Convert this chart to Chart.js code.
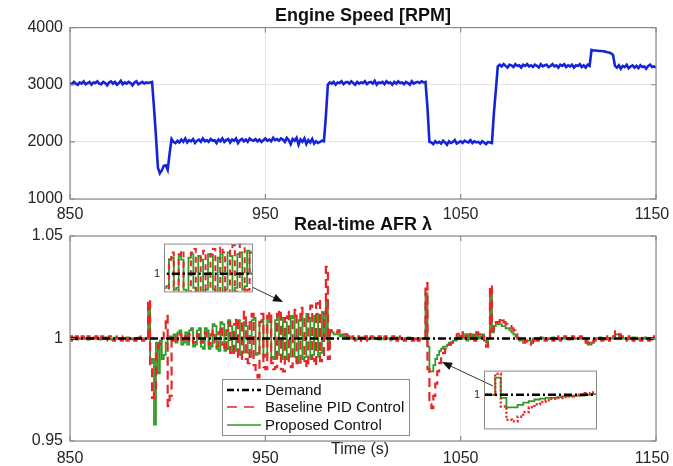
<!DOCTYPE html>
<html>
<head>
<meta charset="utf-8">
<script src="https://cdn.jsdelivr.net/npm/chart.js@4"></script>
<style>
  html, body { margin: 0; padding: 0; background: #fff; }
  #fig { position: relative; width: 673px; height: 466px; overflow: hidden; }
  #fig canvas { position: absolute; }
</style>
</head>
<body>
<div id="fig">
  <canvas id="speed" width="673" height="225" style="left:0;top:0"></canvas>
  <canvas id="afr" width="673" height="261" style="left:0;top:205px"></canvas>
  <canvas id="inset1" width="106" height="69" style="left:150px;top:233px"></canvas>
  <canvas id="inset2" width="130" height="79" style="left:470px;top:360px"></canvas>
</div>
<script>
// sample times: 850 s .. 1150 s, one sample per second
const timeStart = 850;
const timeStep = 1;
const timeTicks = [850, 950, 1050, 1150];
const rpmTicks = [1000, 2000, 3000, 4000];
const lambdaTicks = [0.95, 1, 1.05];

// engine speed [RPM]
const speedRpm = [
  3030,3010,3050,3020,3000,3040,3020,3060,3010,3030, // 850
  3050,3000,3040,3030,3060,3020,3010,3050,3030,2990, // 860
  3040,3060,3020,3050,3000,3030,3070,3010,3040,3020, // 870
  3050,3030,2990,3040,3060,3010,3030,3050,3020,3040, // 880
  3030,3040,3050,2600,2100,1550,1450,1500,1580,1590, // 890
  1510,1800,2050,2000,1980,2020,1990,2040,2000,2060, // 900
  1990,2030,2010,2050,1980,2020,2040,2000,2060,2010, // 910
  2030,2000,2050,2020,2030,1980,2040,2010,2060,2000, // 920
  2030,2050,1990,2040,2020,2060,1980,2030,2050,2010, // 930
  2040,2000,2060,2030,2020,2050,2010,2040,2000,2030, // 940
  2060,2020,2040,2010,2070,2030,2050,2020,2060,2040, // 950
  2000,2070,2030,1960,2050,2020,2070,1950,2040,2000, // 960
  2060,1960,2030,1990,2050,1970,2010,1980,2000,2020, // 970
  2010,2450,3000,3040,3020,3050,3000,3040,3030,3060, // 980
  3010,3040,3050,3020,3060,3030,3000,3050,3020,3040, // 990
  3030,3060,3010,3040,3050,3020,3070,3000,3040,3030, // 1000
  3050,3010,3060,3030,3040,3000,3050,3020,3060,3030, // 1010
  3040,3010,3050,3030,3000,3060,3020,3040,3050,3030, // 1020
  3060,3040,3050,2600,2000,1990,1960,2010,1980,2000, // 1030
  1970,2020,1990,1950,2010,1980,2000,2030,1970,1990, // 1040
  2010,1980,2020,2000,1990,2030,1980,2010,1990,2000, // 1050
  1970,2010,1990,1960,2000,1990,1980,2500,2900,3320, // 1060
  3350,3320,3360,3330,3300,3350,3340,3310,3360,3330, // 1070
  3340,3300,3350,3330,3360,3320,3340,3310,3350,3330, // 1080
  3300,3360,3320,3340,3350,3310,3330,3360,3320,3340, // 1090
  3300,3350,3330,3360,3310,3340,3320,3350,3300,3340, // 1100
  3330,3360,3310,3340,3300,3350,3330,3610,3600,3600, // 1110
  3595,3590,3590,3585,3580,3570,3565,3550,3520,3330, // 1120
  3300,3340,3280,3330,3310,3350,3290,3320,3340,3300, // 1130
  3330,3290,3340,3310,3320,3280,3330,3350,3310,3320, // 1140
  3300                                               // 1150
];

// lambda, baseline PID control
const afrBaseline = [
  1.000,1.001,0.999,1.000,1.001,1.000,0.999,1.001,1.000,0.999, // 850
  1.001,1.000,0.999,1.000,1.001,0.999,1.000,1.001,1.000,0.999, // 860
  1.000,1.001,1.000,0.999,1.000,1.001,1.000,0.999,1.001,1.000, // 870
  0.999,1.000,1.001,1.000,0.999,1.000,1.001,1.000,0.999,1.000, // 880
  1.000,1.019,0.985,0.971,0.975,0.995,0.997,0.998,1.000,1.003, // 890
  1.011,0.967,0.972,0.999,1.001,0.999,1.000,1.002,0.998,1.000, // 900
  1.001,0.999,1.002,1.001,0.998,1.000,1.002,0.999,0.998,1.001, // 910
  1.003,0.999,0.997,1.002,1.004,0.998,0.996,1.003,1.006,0.997, // 920
  0.994,1.004,1.008,0.993,0.992,1.007,1.010,0.991,0.990,1.009, // 930
  1.013,0.990,0.988,1.010,1.012,0.987,0.984,0.981,1.008,1.012, // 940
  0.986,0.985,1.011,1.013,0.988,0.985,0.986,1.012,1.014,0.985, // 950
  0.984,1.010,1.013,0.987,0.986,1.011,1.014,0.988,0.987,1.015, // 960
  1.012,0.989,0.986,1.013,1.016,0.990,0.987,1.017,1.019,0.989, // 970
  0.991,1.012,1.035,0.990,1.004,1.004,1.004,1.003,1.004,1.003, // 980
  1.003,1.002,1.002,1.001,1.002,1.001,1.000,0.999,1.001,1.000, // 990
  0.999,1.000,1.001,0.999,1.000,1.001,1.000,0.999,1.000,1.001, // 1000
  1.000,0.999,1.001,1.000,0.999,1.000,1.001,1.000,0.999,1.000, // 1010
  1.001,1.000,0.999,1.000,1.001,1.000,0.999,1.001,1.000,0.999, // 1020
  1.000,1.000,1.000,1.027,0.985,0.968,0.966,0.972,0.978,0.984, // 1030
  0.988,0.991,0.993,0.995,0.996,0.997,0.998,0.999,1.000,1.002, // 1040
  1.003,1.001,1.003,1.000,1.002,1.003,1.000,1.002,0.999,1.003, // 1050
  1.002,1.000,1.001,0.998,0.996,0.999,1.026,1.004,1.006,1.008, // 1060
  1.008,1.009,1.010,1.008,1.007,1.006,1.006,1.005,1.004,1.002, // 1070
  1.000,0.998,0.998,0.998,0.999,0.997,0.997,0.998,0.999,1.000, // 1080
  0.999,1.000,1.001,1.000,0.999,1.000,1.001,1.000,0.999,1.000, // 1090
  1.001,1.000,0.999,1.000,1.001,1.000,0.999,1.000,1.001,1.000, // 1100
  0.999,1.000,1.001,1.000,0.999,0.998,0.998,0.997,0.998,0.999, // 1110
  1.000,1.001,1.000,0.999,1.000,1.001,1.000,0.999,1.000,1.001, // 1120
  1.0035,1.003,1.002,1.001,1.000,0.999,1.000,1.001,1.000,0.999, // 1130
  1.000,1.001,1.000,0.999,1.000,1.001,1.000,0.999,1.000,1.001, // 1140
  1.000                                                        // 1150
];

// lambda, proposed control
const afrProposed = [
  1.000,1.000,1.0005,1.000,0.9995,1.000,1.000,1.0005,1.000,1.000, // 850
  0.9995,1.000,1.000,1.0005,1.000,1.000,0.9995,1.000,1.000,1.0005, // 860
  1.000,1.000,0.9995,1.000,1.0005,1.000,1.000,0.9995,1.000,1.000, // 870
  1.0005,1.000,1.000,0.9995,1.000,1.000,1.0005,1.000,0.9995,1.000, // 880
  1.000,1.017,0.988,0.990,0.958,0.998,0.983,0.999,0.990,0.992, // 890
  0.998,1.000,1.001,0.999,1.002,0.998,1.003,1.004,0.997,0.998, // 900
  1.003,0.997,1.004,1.005,0.996,0.997,1.004,1.005,0.996,0.995, // 910
  1.005,1.004,0.995,0.996,1.007,1.006,0.995,0.994,1.008,1.007, // 920
  0.994,0.995,1.009,1.006,0.993,0.994,1.007,1.009,0.992,0.993, // 930
  1.008,1.006,0.993,0.991,1.009,1.010,0.992,0.993,1.008,1.009, // 940
  0.991,0.992,1.010,1.008,0.991,0.990,1.009,1.011,0.992,0.990, // 950
  1.010,1.008,0.990,0.991,1.011,1.010,0.991,0.989,1.009,1.011, // 960
  0.990,0.991,1.012,1.010,0.990,0.992,1.011,1.012,0.991,0.993, // 970
  1.013,1.000,1.019,0.996,1.004,1.003,1.002,1.002,1.002,1.001, // 980
  1.002,1.001,1.001,1.000,1.0005,1.000,1.000,0.9995,1.000,1.000, // 990
  1.0005,1.000,1.000,0.9995,1.000,1.000,1.0005,1.000,1.000,0.9995, // 1000
  1.000,1.000,1.0005,1.000,1.000,0.9995,1.000,1.000,1.0005,1.000, // 1010
  1.000,0.9995,1.000,1.000,1.0005,1.000,1.000,0.9995,1.000,1.000, // 1020
  1.000,1.000,1.000,1.022,0.996,0.984,0.984,0.987,0.990,0.992, // 1030
  0.994,0.995,0.996,0.996,0.997,0.998,0.998,0.999,0.999,1.000, // 1040
  1.001,1.000,1.002,1.001,0.999,1.002,1.000,1.002,1.000,1.002, // 1050
  1.000,1.001,1.002,0.999,0.998,1.000,1.022,1.003,1.006,1.008, // 1060
  1.007,1.007,1.006,1.006,1.005,1.005,1.004,1.003,1.002,1.001, // 1070
  1.000,0.999,0.999,0.999,0.999,0.999,0.999,0.999,1.000,1.000, // 1080
  1.000,1.000,1.0005,1.000,1.000,0.9995,1.000,1.000,1.0005,1.000, // 1090
  1.000,0.9995,1.000,1.000,1.0005,1.000,1.000,0.9995,1.000,1.000, // 1100
  1.000,1.000,1.0005,1.000,1.000,0.999,0.997,0.997,0.998,0.999, // 1110
  1.000,1.000,1.0005,1.000,1.000,0.9995,1.000,1.000,1.000,1.000, // 1120
  1.002,1.002,1.001,1.0005,1.000,1.000,0.9995,1.000,1.000,1.0005, // 1130
  1.000,1.000,0.9995,1.000,1.000,1.0005,1.000,1.000,0.9995,1.000, // 1140
  1.000                                                          // 1150
];

// lambda demand
const demandTimes = [850, 1150];
const demandLambda = [1, 1];

// zoom windows of the two insets
const inset1X = [945, 981], inset1Y = [0.99, 1.017];
const inset2X = [1030, 1050], inset2Y = [0.957, 1.031];

if (speedRpm.length !== 301 || afrBaseline.length !== 301 || afrProposed.length !== 301) {
  throw new Error('length ' + speedRpm.length + ' ' + afrBaseline.length + ' ' + afrProposed.length);
}

const FONT = "'Liberation Sans', Arial, Helvetica, sans-serif";
const TXT = '#262626';
const GRID = '#e4e4e4';
const FRAME = '#8c8c8c';
const RED = '#e8262a';
const GREEN = '#2f9a24';

const series = vals => vals.map((v, i) => ({ x: timeStart + i * timeStep, y: v }));
const pairs = (xs, ys) => xs.map((x, i) => ({ x, y: ys[i] }));
const fixTicks = list => axis => { axis.ticks = list.map(v => ({ value: v })); };

// box round the plot area plus short inward ticks, like matlab
const frame = {
  id: 'frame',
  afterDraw(chart) {
    const { ctx, chartArea: a, scales } = chart;
    ctx.save();
    ctx.strokeStyle = FRAME;
    ctx.lineWidth = 1.2;
    ctx.strokeRect(a.left, a.top, a.right - a.left, a.bottom - a.top);
    const tl = 5;
    ctx.beginPath();
    scales.x.ticks.forEach(t => {
      const px = scales.x.getPixelForValue(t.value);
      ctx.moveTo(px, a.bottom); ctx.lineTo(px, a.bottom - tl);
      ctx.moveTo(px, a.top); ctx.lineTo(px, a.top + tl);
    });
    scales.y.ticks.forEach(t => {
      const py = scales.y.getPixelForValue(t.value);
      ctx.moveTo(a.left, py); ctx.lineTo(a.left + tl, py);
      ctx.moveTo(a.right, py); ctx.lineTo(a.right - tl, py);
    });
    ctx.stroke();
    ctx.restore();
  }
};

function axisX(h, pad) {
  return {
    type: 'linear', min: timeTicks[0], max: timeTicks[timeTicks.length - 1],
    afterBuildTicks: fixTicks(timeTicks),
    afterFit: s => { s.height = h; s.paddingLeft = 0; s.paddingRight = 17; },
    ticks: {
      autoSkip: false, maxRotation: 0, padding: pad, color: TXT, font: { family: FONT, size: 16 },
      // last label sits a little left of the corner in the original
      callback: (v, i, arr) => i === arr.length - 1 ? String(v) + '\u2002' : String(v)
    },
    grid: { color: GRID, drawTicks: false },
    border: { display: false }
  };
}

function axisY(ticks) {
  return {
    min: ticks[0], max: ticks[ticks.length - 1],
    afterBuildTicks: fixTicks(ticks),
    afterFit: s => { s.width = 70; },
    ticks: { padding: 7, color: TXT, font: { family: FONT, size: 16 }, callback: v => String(v) },
    grid: { color: GRID, drawTicks: false },
    border: { display: false }
  };
}

function titleOpts(text, top, bottom) {
  return {
    display: true, text, color: '#111', fullSize: false,
    font: { family: FONT, size: 18, weight: 'bold', lineHeight: 1.2 },
    padding: { top, bottom }
  };
}

new Chart(document.getElementById('speed'), {
  type: 'line',
  data: {
    datasets: [{
      data: series(speedRpm), borderColor: '#1424d6', borderWidth: 2.6,
      pointRadius: 0, tension: 0
    }]
  },
  options: {
    responsive: false, animation: false, events: [],
    plugins: { legend: { display: false }, tooltip: { enabled: false }, title: titleOpts('Engine Speed [RPM]', 5, 1) },
    scales: { x: axisX(26, 6), y: axisY(rpmTicks) }
  },
  plugins: [frame]
});

function arrow(ctx, x0, y0, x1, y1) {
  const ang = Math.atan2(y1 - y0, x1 - x0), len = 10, w = 4;
  ctx.beginPath();
  ctx.moveTo(x0, y0);
  ctx.lineTo(x1 - len * Math.cos(ang), y1 - len * Math.sin(ang));
  ctx.stroke();
  ctx.beginPath();
  ctx.moveTo(x1, y1);
  ctx.lineTo(x1 - len * Math.cos(ang) + w * Math.sin(ang), y1 - len * Math.sin(ang) - w * Math.cos(ang));
  ctx.lineTo(x1 - len * Math.cos(ang) - w * Math.sin(ang), y1 - len * Math.sin(ang) + w * Math.cos(ang));
  ctx.closePath();
  ctx.fill();
}

// legend box, arrows and the x label that sits level with the tick labels
const extras = {
  id: 'extras',
  afterDraw(chart) {
    const ctx = chart.ctx;
    ctx.save();
    ctx.fillStyle = '#fff';
    ctx.fillRect(222, 174, 187, 56);
    ctx.strokeStyle = FRAME;
    ctx.lineWidth = 1;
    ctx.strokeRect(222.5, 174.5, 187, 56);
    const rows = [
      { y: 185, color: '#000', dash: [7, 3, 2, 3], w: 2.4, label: 'Demand' },
      { y: 202, color: RED, dash: [10, 7], w: 1.6, label: 'Baseline PID Control' },
      { y: 220, color: GREEN, dash: [], w: 1.6, label: 'Proposed Control' }
    ];
    rows.forEach(r => {
      ctx.beginPath();
      ctx.setLineDash(r.dash);
      ctx.strokeStyle = r.color;
      ctx.lineWidth = r.w;
      ctx.moveTo(227, r.y); ctx.lineTo(261, r.y);
      ctx.stroke();
    });
    ctx.setLineDash([]);
    ctx.fillStyle = '#111';
    ctx.font = '15px ' + FONT;
    ctx.textBaseline = 'middle';
    rows.forEach(r => ctx.fillText(r.label, 265, r.y + 1));
    ctx.font = '16px ' + FONT;
    ctx.textAlign = 'center';
    ctx.fillStyle = TXT;
    ctx.fillText('Time (s)', 360, 245);
    ctx.strokeStyle = '#333';
    ctx.fillStyle = '#111';
    ctx.lineWidth = 1;
    arrow(ctx, 252, 82, 283, 97);
    arrow(ctx, 493, 181, 442, 157);
    ctx.restore();
  }
};

function afrDatasets(redDash, redWidth) {
  return [
    { data: pairs(demandTimes, demandLambda), borderColor: '#000', borderWidth: 2.4, borderDash: [8, 3, 2, 3], pointRadius: 0, order: 0 },
    { data: series(afrBaseline), borderColor: RED, borderWidth: redWidth, borderDash: redDash, pointRadius: 0, stepped: 'after', order: 1 },
    { data: series(afrProposed), borderColor: GREEN, borderWidth: 1.8, pointRadius: 0, stepped: 'after', order: 2 }
  ];
}

new Chart(document.getElementById('afr'), {
  type: 'line',
  data: { datasets: afrDatasets([9, 5], 2.2) },
  options: {
    responsive: false, animation: false, events: [],
    plugins: { legend: { display: false }, tooltip: { enabled: false }, title: titleOpts('Real-time AFR \u03bb', 9, 0.4) },
    scales: { x: axisX(25, 8), y: axisY(lambdaTicks) }
  },
  plugins: [frame, extras]
});

const insetFrame = {
  id: 'insetFrame',
  afterDraw(chart) {
    const { ctx, chartArea: a } = chart;
    ctx.save();
    ctx.strokeStyle = '#8a8a8a';
    ctx.lineWidth = 1;
    ctx.strokeRect(a.left + 0.5, a.top + 0.5, a.right - a.left, a.bottom - a.top);
    ctx.restore();
  }
};

function inset(id, xr, yr, redDash, redWidth) {
  new Chart(document.getElementById(id), {
    type: 'line',
    data: { datasets: afrDatasets(redDash, redWidth) },
    options: {
      responsive: false, animation: false, events: [],
      layout: { padding: { top: 6, bottom: 6, right: 4, left: 0 } },
      plugins: { legend: { display: false }, tooltip: { enabled: false } },
      scales: {
        x: { type: 'linear', display: false, min: xr[0], max: xr[1] },
        y: {
          min: yr[0], max: yr[1],
          afterBuildTicks: fixTicks([1]),
          afterFit: s => { s.width = 14; },
          ticks: { padding: 4, color: TXT, font: { family: FONT, size: 11 }, callback: v => String(v) },
          grid: { display: false, drawTicks: false },
          border: { display: false }
        }
      }
    },
    plugins: [insetFrame]
  });
}

inset('inset1', inset1X, inset1Y, [6, 4], 2);
inset('inset2', inset2X, inset2Y, [2, 2], 2.4);
</script>
</body>
</html>
